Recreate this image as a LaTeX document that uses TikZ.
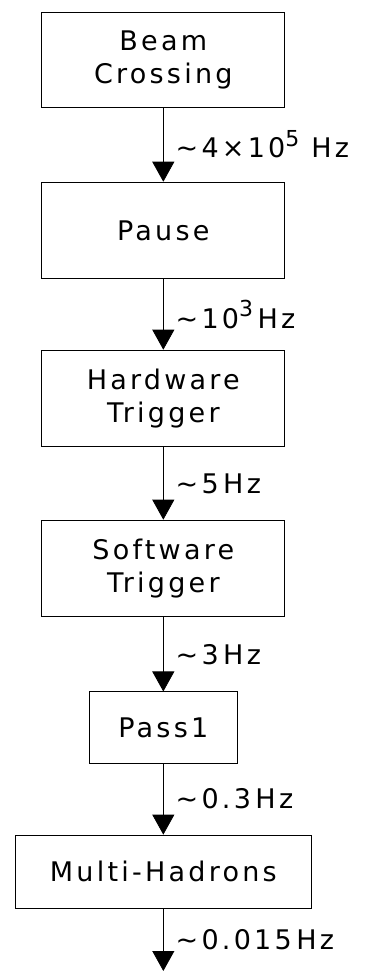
\documentclass[tikz,border=0pt]{standalone}
\usepackage{fontspec}
\setmainfont{DejaVu Sans}[LetterSpace=12]
\usetikzlibrary{arrows.meta,positioning}
\newcommand\rexp[1]{\raisebox{0.75ex}{\fontsize{11}{11}\selectfont #1}}
\tikzset{>={Triangle[length=10pt,width=11pt]},line width=1.4pt,
  every node/.style={font=\fontsize{13.5}{16.5}\selectfont},
  stage/.style={draw,align=center,minimum width=4.27cm,minimum height=1.70cm,inner sep=2pt},
  rate/.style={right,inner sep=0pt,xshift=6pt}}

\begin{document}
\begin{tikzpicture}
\useasboundingbox (0,0) rectangle (6.713,-17.064);
\node[stage,minimum height=1.67cm] (beam) at (2.87,-1.046) {Beam\\Crossing};
\node[stage] (pause) at (2.87,-4.051) {Pause};
\node[stage] (hw) at (2.87,-7.003) {Hardware\\Trigger};
\node[stage] (sw) at (2.87,-9.990) {Software\\Trigger};
\node[stage,minimum width=2.60cm,minimum height=1.25cm] (pass) at (2.87,-12.784) {Pass1};
\node[stage,minimum width=5.20cm,minimum height=1.28cm] (multi) at (2.87,-15.315) {Multi-Hadrons};
\coordinate (out) at (2.87,-17.064);
\draw[->] (beam)--node[rate] {∼4×10\rexp{5} Hz}(pause);
\draw[->] (pause)--node[rate] {∼10\rexp{3}\,Hz}(hw);
\draw[->] (hw)--node[rate] {∼5\,Hz}(sw);
\draw[->] (sw)--node[rate] {∼3\,Hz}(pass);
\draw[->] (pass)--node[rate] {∼0.3\,Hz}(multi);
\draw[->] (multi)--node[rate] {∼0.015\,Hz}(out);
\end{tikzpicture}
\end{document}
